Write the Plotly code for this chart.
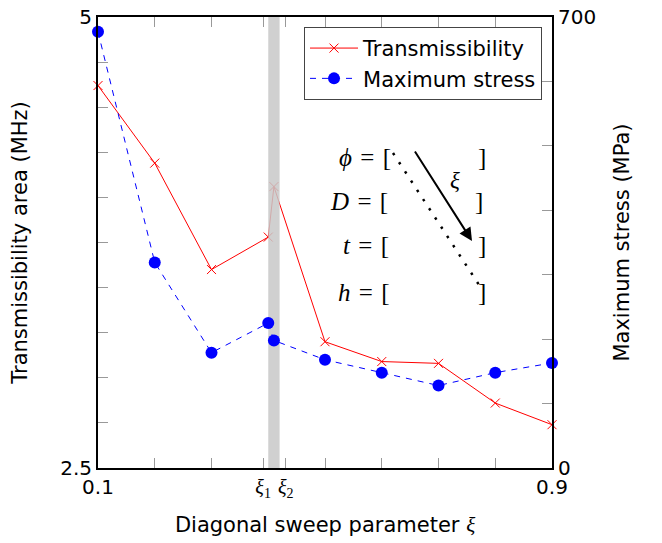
import plotly.graph_objects as go

xi = [0.1, 0.2, 0.3, 0.40, 0.41, 0.5, 0.6, 0.7, 0.8, 0.9]
transmissibility = [4.62, 4.19, 3.60, 3.78, 4.06, 3.20, 3.09, 3.08, 2.86, 2.74]
max_stress = [677, 319, 179, 225, 198, 168, 148, 128, 148, 163]

band_x = [0.40, 0.42]
xi1, xi2 = 0.391, 0.431

x_tickvals = [0.1, 0.2, 0.3, xi1, xi2, 0.5, 0.6, 0.7, 0.8, 0.9]
serif = "font-family:'Liberation Serif'"
x_ticktext = ["0.1", "", "",
              f"<span style=\"{serif}\"><i>ξ</i><sub>1</sub></span>",
              f"<span style=\"{serif}\"><i>ξ</i><sub>2</sub></span>",
              "", "", "", "", "0.9"]
y_tickvals = [2.5 + 0.25 * i for i in range(11)]
y_ticktext = ["2.5"] + [""] * 9 + ["5"]
y2_tickvals = [100 * i for i in range(8)]
y2_ticktext = ["0"] + [""] * 6 + ["700"]

SANS = "DejaVu Sans"
fig = go.Figure()
fig.add_trace(go.Scatter(
    x=xi, y=transmissibility, name="Transmissibility", mode="lines+markers",
    line=dict(color="red", width=1),
    marker=dict(symbol="x-thin-open", size=9, color="red", line=dict(color="red", width=1)),
    cliponaxis=False, yaxis="y"))
fig.add_trace(go.Scatter(
    x=[band_x[0], band_x[1], band_x[1], band_x[0], band_x[0]],
    y=[2.5, 2.5, 5, 5, 2.5], fill="toself", mode="lines",
    line=dict(width=0), fillcolor="rgba(200,200,200,0.85)",
    showlegend=False, hoverinfo="skip", yaxis="y"))
fig.add_trace(go.Scatter(
    x=xi, y=max_stress, name="Maximum stress", mode="lines+markers",
    line=dict(color="blue", width=1, dash="6px,6px"),
    marker=dict(symbol="circle", size=12, color="blue"),
    cliponaxis=False, yaxis="y2"))

# screen pixel -> paper coordinates (plot area 98..552 x 17..468 on screen)
def px(xp, yp):
    return (xp - 98) / 454, (468 - yp) / 451

FS = 25
sp = "\u2004"
annotations = []
rows = [(f"<i>ϕ</i>{sp}={sp}[", 393, 157, 482), (f"<i>D</i>{sp}={sp}[", 390, 201, 479),
        (f"<i>t</i>{sp}={sp}[", 391, 245, 482), (f"<i>h</i>{sp}={sp}[", 392, 292, 482)]
for txt, xr, yc, xb in rows:
    ax_, ay_ = px(xr, yc)
    annotations.append(dict(xref="paper", yref="paper", x=ax_, y=ay_, text=txt,
                            showarrow=False, xanchor="right", yanchor="middle",
                            font=dict(family="Liberation Serif", size=FS, color="black")))
    bx, by = px(xb, yc)
    annotations.append(dict(xref="paper", yref="paper", x=bx, y=by, text="]",
                            showarrow=False, xanchor="center", yanchor="middle",
                            font=dict(family="Liberation Serif", size=FS, color="black")))
hx, hy = px(472, 241)
annotations.append(dict(xref="paper", yref="paper", x=hx, y=hy, text="", showarrow=True,
                        ax=-58, ay=-91, arrowhead=2, arrowsize=1.3, arrowwidth=2,
                        arrowcolor="black"))
lx, ly = px(462, 180)
annotations.append(dict(xref="paper", yref="paper", x=lx, y=ly, text="<i>ξ</i>",
                        showarrow=False, font=dict(family="Liberation Serif", size=23, color="black")))

x0, y0 = px(393, 153)
x1, y1 = px(483, 291)
shapes = [dict(type="line", xref="paper", yref="paper", x0=x0, y0=y0, x1=x1, y1=y1,
               line=dict(color="black", width=2.5, dash="2.5px,8.5px"))]

fig.update_layout(
    width=654, height=535,
    margin=dict(l=90, r=110, t=9, b=75),
    plot_bgcolor="white", paper_bgcolor="white",
    font=dict(family=SANS, size=20, color="black"),
    showlegend=True,
    legend=dict(x=0.978, y=0.978, xanchor="right", yanchor="top",
                bgcolor="white", bordercolor="#444", borderwidth=1,
                font=dict(family=SANS, size=21), tracegroupgap=0, itemwidth=48),
    xaxis=dict(range=[0.1, 0.9], tickvals=x_tickvals, ticktext=x_ticktext,
               ticks="inside", ticklen=10, tickcolor="#999", tickwidth=1,
               showline=True, linecolor="black", linewidth=2, mirror="ticks",
               showgrid=False, zeroline=False, automargin=False, ticklabeloverflow="allow",
               title=dict(text="Diagonal sweep parameter <span style=\"font-family:'Liberation Serif'\"><i>ξ</i></span>",
                          standoff=17, font=dict(size=21))),
    yaxis=dict(range=[2.5, 5], tickvals=y_tickvals, ticktext=y_ticktext,
               ticks="inside", ticklen=10, tickcolor="#999", tickwidth=1,
               showline=True, linecolor="black", linewidth=2,
               showgrid=False, zeroline=False, automargin=False, ticklabeloverflow="allow",
               title=dict(text="Transmissibility area (MHz)", standoff=29, font=dict(size=21))),
    yaxis2=dict(range=[0, 700], tickvals=y2_tickvals, ticktext=y2_ticktext,
                overlaying="y", side="right",
                ticks="inside", ticklen=10, tickcolor="#999", tickwidth=1,
                showline=True, linecolor="black", linewidth=2,
                showgrid=False, zeroline=False, automargin=False, ticklabeloverflow="allow",
                title=dict(text="Maximum stress (MPa)", standoff=19, font=dict(size=21))),
    annotations=annotations, shapes=shapes,
)
fig.write_html("out.html")
